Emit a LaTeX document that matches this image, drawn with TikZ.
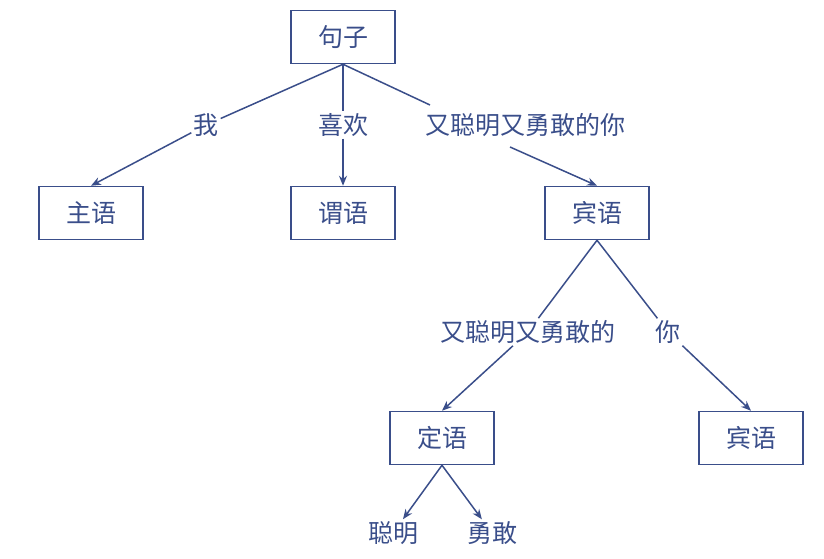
\documentclass[tikz,border=0pt]{standalone}
\usepackage{fontspec}
\newfontfamily\cjk{Noto Sans CJK SC}
\usetikzlibrary{arrows.meta}
\begin{document}
\begin{tikzpicture}[x=1pt,y=-1pt]
	\colorlet{navy}{rgb,255:red,58;green,78;blue,138}
	\tikzstyle{tbox} = [draw=navy,line width=1.5pt,text=navy,minimum width=104pt,minimum height=53pt,font=\cjk\fontsize{25}{30}\selectfont]
	\tikzstyle{tlab} = [text=navy,inner sep=2pt,font=\cjk\fontsize{25}{30}\selectfont]
	\tikzstyle{tline} = [navy,line width=1.5pt]
	\tikzstyle{tarr} = [navy,line width=1.5pt,-{Stealth[length=10pt,width=8pt]}]

	\useasboundingbox (0,0) rectangle (824,559);

	% NODES %
	\node[tbox] (root) at (343,37) {句子};
	\node[tbox] (subj) at (91,213) {主语};
	\node[tbox] (pred) at (343,213) {谓语};
	\node[tbox] (obj) at (597,213) {宾语};
	\node[tbox] (attr) at (442,438) {定语};
	\node[tbox] (head) at (751,438) {宾语};

	\node[tlab] (wo) at (206,125) {我};
	\node[tlab] (xh) at (343,125) {喜欢};
	\node[tlab] (ynd) at (525,125) {又聪明又勇敢的你};
	\node[tlab] (ynde) at (528,332) {又聪明又勇敢的};
	\node[tlab] (ni) at (668,332) {你};
	\node[tlab] (cm) at (393,533) {聪明};
	\node[tlab] (yg) at (492,533) {勇敢};
	\coordinate (yndin) at (430,105);
	\coordinate (yndout) at (510,147);

	% EDGES %
	\draw[tline] (root.south) -- (wo);
	\draw[tarr] (wo) -- (subj.north);
	\draw[tline] (root.south) -- (xh);
	\draw[tarr] (xh) -- (pred.north);
	\draw[tline] (root.south) -- (yndin);
	\draw[tarr] (yndout) -- (obj.north);
	\draw[tline] (obj.south) -- (ynde);
	\draw[tarr] (ynde) -- (attr.north);
	\draw[tline] (obj.south) -- (ni);
	\draw[tarr] (ni) -- (head.north);
	\draw[tarr] (attr.south) -- (cm);
	\draw[tarr] (attr.south) -- (yg);
\end{tikzpicture}
\end{document}
